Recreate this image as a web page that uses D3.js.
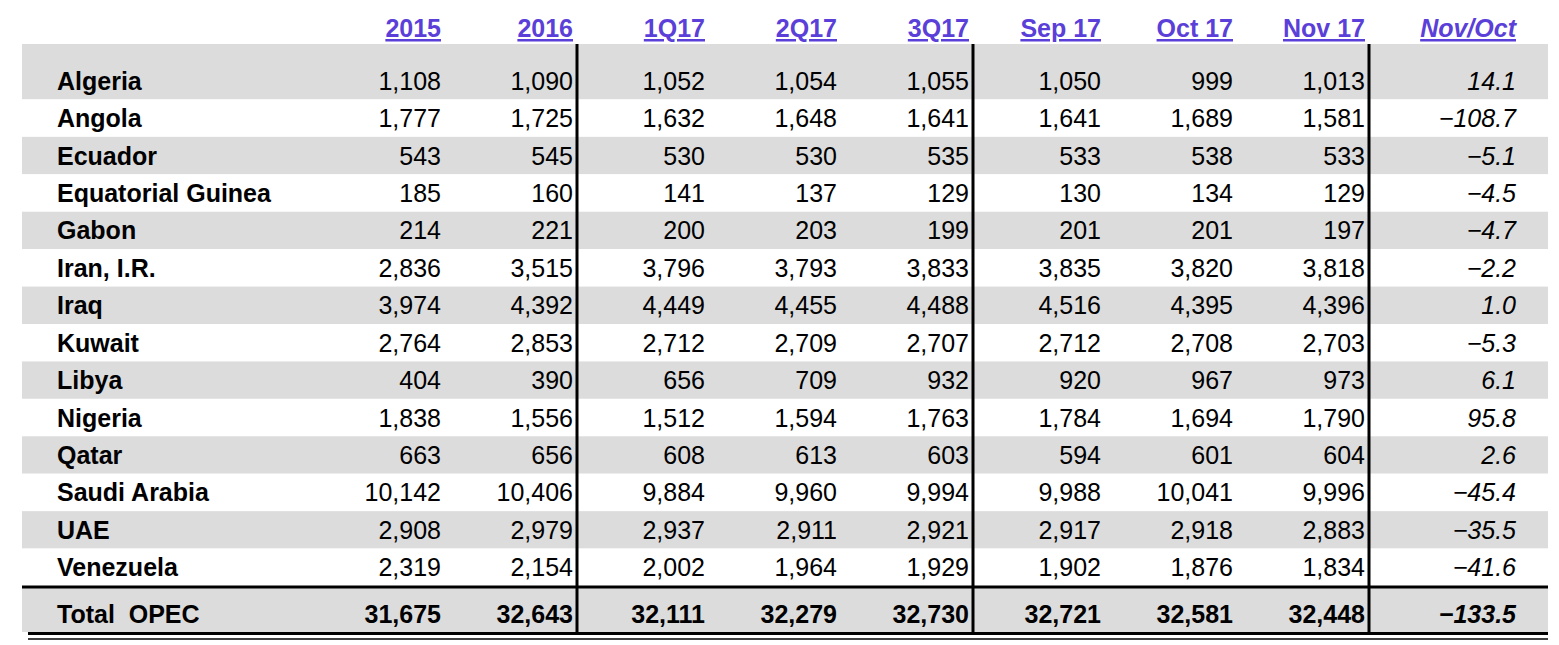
<!DOCTYPE html>
<meta charset="utf-8">
<script src="https://d3js.org/d3.v7.min.js"></script>
<style>
  body { margin: 0; background: #fff; }
  text { font-family: "Liberation Sans", Arial, sans-serif; }
</style>
<div id="my_table"></div>
<script>
// columns and rows
var columns = ["2015", "2016", "1Q17", "2Q17", "3Q17", "Sep 17", "Oct 17", "Nov 17"];
var changeLabel = "Nov/Oct";
var countries = ["Algeria", "Angola", "Ecuador", "Equatorial Guinea", "Gabon", "Iran, I.R.", "Iraq",
  "Kuwait", "Libya", "Nigeria", "Qatar", "Saudi Arabia", "UAE", "Venezuela"];
var values = [
  [1108, 1090, 1052, 1054, 1055, 1050, 999, 1013],
  [1777, 1725, 1632, 1648, 1641, 1641, 1689, 1581],
  [543, 545, 530, 530, 535, 533, 538, 533],
  [185, 160, 141, 137, 129, 130, 134, 129],
  [214, 221, 200, 203, 199, 201, 201, 197],
  [2836, 3515, 3796, 3793, 3833, 3835, 3820, 3818],
  [3974, 4392, 4449, 4455, 4488, 4516, 4395, 4396],
  [2764, 2853, 2712, 2709, 2707, 2712, 2708, 2703],
  [404, 390, 656, 709, 932, 920, 967, 973],
  [1838, 1556, 1512, 1594, 1763, 1784, 1694, 1790],
  [663, 656, 608, 613, 603, 594, 601, 604],
  [10142, 10406, 9884, 9960, 9994, 9988, 10041, 9996],
  [2908, 2979, 2937, 2911, 2921, 2917, 2918, 2883],
  [2319, 2154, 2002, 1964, 1929, 1902, 1876, 1834]
];
var changes = [14.1, -108.7, -5.1, -4.5, -4.7, -2.2, 1.0, -5.3, 6.1, 95.8, 2.6, -45.4, -35.5, -41.6];
var totalLabel = "Total  OPEC";
var totals = [31675, 32643, 32111, 32279, 32730, 32721, 32581, 32448];
var totalChange = -133.5;

var W = 1559, H = 645;
var fmt = d3.format(",");
var fmt1 = d3.format(".1f");

var svg = d3.select("#my_table").append("svg").attr("width", W).attr("height", H);

// column right edges
var x = d3.scaleBand().domain(columns).range([309, 1365]);
var right = function (c) { return x(c) + x.bandwidth(); };
var xChange = 1516;

// rows
var y = d3.scaleBand().domain(countries).range([62, 586]);
var rowTop = function (i) { return i === 0 ? 44 : y(countries[i]); };

// row backgrounds
svg.selectAll("rect.row")
  .data(countries)
  .enter().append("rect")
  .attr("class", "row")
  .attr("x", 22).attr("width", 1526)
  .attr("y", function (d, i) { return rowTop(i); })
  .attr("height", function (d, i) { return y(d) + y.bandwidth() - rowTop(i); })
  .attr("fill", function (d, i) { return i % 2 === 0 ? "#dcdcdc" : "#fff"; });

// total background
svg.append("rect").attr("x", 22).attr("width", 1526).attr("y", 588).attr("height", 44).attr("fill", "#dcdcdc");

// headers
var hdr = svg.selectAll("text.hdr")
  .data(columns.concat([changeLabel]))
  .enter().append("text")
  .attr("class", "hdr")
  .attr("x", function (d, i) { return i < columns.length ? right(d) : xChange; })
  .attr("y", 37)
  .attr("text-anchor", "end")
  .attr("font-size", 25).attr("font-weight", "bold")
  .attr("font-style", function (d, i) { return i < columns.length ? "normal" : "italic"; })
  .attr("fill", "#5b3fd9")
  .attr("text-decoration", "underline")
  .text(function (d) { return d; });

// country rows
var rows = svg.selectAll("g.r")
  .data(countries)
  .enter().append("g")
  .attr("class", "r")
  .attr("transform", function (d) { return "translate(0," + (y(d) + y.bandwidth() / 2 + 9) + ")"; });

rows.append("text")
  .attr("x", 57).attr("font-size", 25).attr("font-weight", "bold")
  .text(function (d) { return d; });

rows.each(function (d, i) {
  var g = d3.select(this);
  g.selectAll("text.v").data(values[i]).enter().append("text")
    .attr("class", "v")
    .attr("x", function (v, j) { return right(columns[j]); })
    .attr("text-anchor", "end").attr("font-size", 25)
    .text(function (v) { return fmt(v); });
  g.append("text").attr("x", xChange).attr("text-anchor", "end")
    .attr("font-size", 25).attr("font-style", "italic")
    .text(fmt1(changes[i]));
});

// total row
var tg = svg.append("g").attr("transform", "translate(0,623)");
tg.append("text").attr("x", 57).attr("font-size", 25).attr("font-weight", "bold")
  .attr("xml:space", "preserve").text(totalLabel);
tg.selectAll("text.v").data(totals).enter().append("text")
  .attr("x", function (v, j) { return right(columns[j]); })
  .attr("text-anchor", "end").attr("font-size", 25).attr("font-weight", "bold")
  .text(function (v) { return fmt(v); });
tg.append("text").attr("x", xChange).attr("text-anchor", "end")
  .attr("font-size", 25).attr("font-weight", "bold").attr("font-style", "italic")
  .text(fmt1(totalChange));

// lines
svg.append("line").attr("x1", 22).attr("x2", 1548).attr("y1", 587).attr("y2", 587)
  .attr("stroke", "#000").attr("stroke-width", 3);
svg.append("line").attr("x1", 28).attr("x2", 1548).attr("y1", 633.5).attr("y2", 633.5)
  .attr("stroke", "#000").attr("stroke-width", 3);
svg.append("line").attr("x1", 28).attr("x2", 1548).attr("y1", 639).attr("y2", 639)
  .attr("stroke", "#000").attr("stroke-width", 1.5);
["2016", "3Q17", "Nov 17"].forEach(function (c) {
  svg.append("line").attr("x1", right(c) + 4).attr("x2", right(c) + 4)
    .attr("y1", 44).attr("y2", 632)
    .attr("stroke", "#000").attr("stroke-width", 3);
});
</script>
